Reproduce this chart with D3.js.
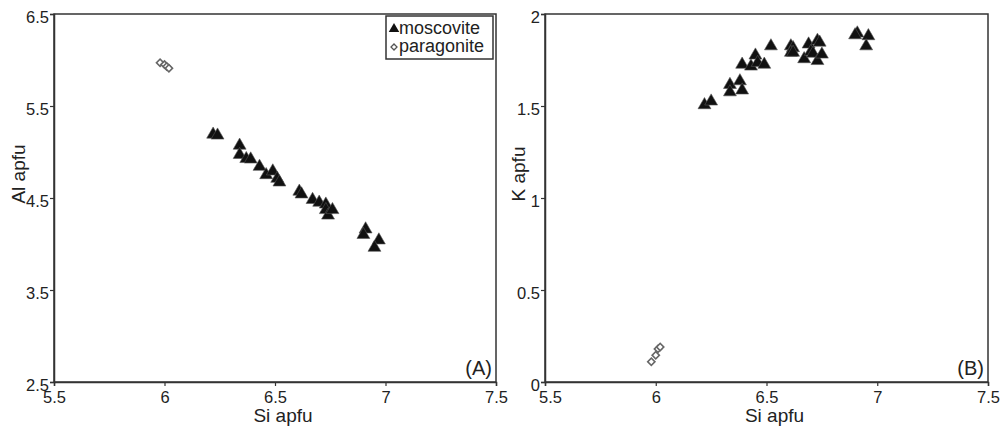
<!DOCTYPE html>
<html>
<head>
<meta charset="utf-8">
<script src="https://cdn.jsdelivr.net/npm/d3@7"></script>
<style>
  body { margin: 0; background: #fff; }
  svg text { font-family: "Liberation Sans", Arial, sans-serif; fill: #222; }
</style>
</head>
<body>
<div id="chart"></div>
<script>
// panel A: Al vs Si
var siMoscA = [6.22, 6.24, 6.34, 6.34, 6.37, 6.39, 6.43, 6.46, 6.49, 6.51, 6.52, 6.61, 6.62, 6.67, 6.70, 6.73, 6.73, 6.74, 6.76, 6.91, 6.90, 6.97, 6.95]
var alMoscA = [5.18, 5.17, 5.06, 4.96, 4.915, 4.91, 4.83, 4.74, 4.78, 4.70, 4.66, 4.56, 4.53, 4.47, 4.44, 4.42, 4.36, 4.30, 4.36, 4.15, 4.09, 4.03, 3.95]
var siParaA = [5.98, 6.00, 6.01, 6.02]
var alParaA = [5.97, 5.95, 5.93, 5.91]

// panel B: K vs Si
var siMoscB = [6.22, 6.25, 6.335, 6.335, 6.38, 6.39, 6.39, 6.43, 6.45, 6.46, 6.49, 6.52, 6.61, 6.62, 6.61, 6.62, 6.67, 6.69, 6.70, 6.71, 6.73, 6.74, 6.73, 6.75, 6.91, 6.90, 6.96, 6.95]
var kMoscB  = [1.50, 1.52, 1.61, 1.57, 1.63, 1.58, 1.72, 1.71, 1.77, 1.73, 1.72, 1.82, 1.82, 1.81, 1.785, 1.785, 1.75, 1.83, 1.79, 1.78, 1.85, 1.84, 1.74, 1.775, 1.89, 1.88, 1.875, 1.82]
var siParaB = [5.98, 6.00, 6.01, 6.02]
var kParaB  = [0.11, 0.145, 0.18, 0.19]

var xTicks = [5.5, 6, 6.5, 7, 7.5]
var yTicksA = [2.5, 3.5, 4.5, 5.5, 6.5]
var yTicksB = [0, 0.5, 1, 1.5, 2]

var legendLabels = ["moscovite", "paragonite"]

var svg = d3.select("#chart")
    .append("svg")
    .attr("width", 1008)
    .attr("height", 428)

var triangle = d3.symbol().type(d3.symbolTriangle).size(72)
var diamond = d3.symbol().type(d3.symbolSquare).size(26)

function zip(a, b) { return a.map(function (v, i) { return [v, b[i]]; }); }

function panel(opt) {
    var g = svg.append("g")
        .attr("transform", "translate(" + opt.left + "," + opt.top + ")")
    var w = opt.width, h = opt.height

    var x = d3.scaleLinear().domain([5.5, 7.5]).range([0, w])
    var y = d3.scaleLinear().domain(opt.yDomain).range([h, 0])

    // frame
    g.append("rect")
        .attr("width", w)
        .attr("height", h)
        .style("fill", "none")
        .style("stroke", "#333")
        .style("stroke-width", 1.5)

    var xAxis = g.append("g")
        .attr("transform", "translate(0," + h + ")")
        .call(d3.axisBottom(x).tickValues(xTicks).tickSize(4).tickPadding(5).tickFormat(function (d) { return String(d); }))
    var yAxis = g.append("g")
        .call(d3.axisLeft(y).tickValues(opt.yTicks).tickSize(4).tickPadding(1).tickFormat(function (d) { return String(d); }))

    ;[xAxis, yAxis].forEach(function (a) {
        a.select(".domain").style("stroke", "#333").style("stroke-width", 1.5)
        a.selectAll(".tick line").style("stroke", "#333").style("stroke-width", 1.2)
        a.selectAll("text").style("font-size", "16.5px").style("fill", "#222")
            .style("font-family", "'Liberation Sans', Arial, sans-serif")
    })
    yAxis.selectAll("text").attr("dy", "0.5em")
    // first x label nudged right where it meets the y axis
    xAxis.selectAll("text").filter(function (d) { return d === 5.5; }).attr("dx", opt.firstDx)

    // axis titles
    g.append("text")
        .attr("x", w / 2 + 8)
        .attr("y", h + 40)
        .attr("text-anchor", "middle")
        .style("font-size", "19px")
        .text("Si apfu")
    g.append("text")
        .attr("transform", "translate(" + (opt.yTitleX) + "," + (h / 2 - 24) + ") rotate(-90)")
        .attr("text-anchor", "middle")
        .style("font-size", "19px")
        .text(opt.yTitle)

    // panel tag
    g.append("text")
        .attr("x", w - 4)
        .attr("y", h - 7)
        .attr("text-anchor", "end")
        .style("font-size", "20px")
        .text(opt.tag)

    // paragonite diamonds
    g.selectAll(".para")
        .data(opt.para)
        .enter()
        .append("path")
        .attr("class", "para")
        .attr("d", diamond)
        .attr("transform", function (d) { return "translate(" + x(d[0]) + "," + y(d[1]) + ") rotate(45)"; })
        .style("fill", "#fff")
        .style("stroke", "#666")
        .style("stroke-width", 1.6)

    // moscovite triangles
    g.selectAll(".mosc")
        .data(opt.mosc)
        .enter()
        .append("path")
        .attr("class", "mosc")
        .attr("d", triangle)
        .attr("transform", function (d) { return "translate(" + x(d[0]) + "," + (y(d[1]) - 1) + ")"; })
        .style("fill", "#111")
        .style("stroke", "#555")
        .style("stroke-width", 0.6)

    return g
}

var gA = panel({
    left: 54, top: 14, width: 442, height: 368,
    yDomain: [2.5, 6.5], yTicks: yTicksA, yTitle: "Al apfu", yTitleX: -29, tag: "(A)", firstDx: 0,
    mosc: zip(siMoscA, alMoscA), para: zip(siParaA, alParaA)
})

panel({
    left: 545, top: 14, width: 443, height: 368,
    yDomain: [0, 2], yTicks: yTicksB, yTitle: "K apfu", yTitleX: -20, tag: "(B)", firstDx: 5,
    mosc: zip(siMoscB, kMoscB), para: zip(siParaB, kParaB)
})

// legend in panel A
var legend = gA.append("g").attr("transform", "translate(332,2)")
legend.append("rect")
    .attr("width", 107)
    .attr("height", 43)
    .style("fill", "#fff")
    .style("stroke", "#333")
    .style("stroke-width", 1.5)

legend.append("path")
    .attr("d", d3.symbol().type(d3.symbolTriangle).size(48))
    .attr("transform", "translate(8,13)")
    .style("fill", "#111")
legend.append("path")
    .attr("d", d3.symbol().type(d3.symbolSquare).size(18))
    .attr("transform", "translate(8,31) rotate(45)")
    .style("fill", "#fff")
    .style("stroke", "#555")
    .style("stroke-width", 1.3)

legend.selectAll(".lab")
    .data(legendLabels)
    .enter()
    .append("text")
    .attr("class", "lab")
    .attr("x", 13)
    .attr("y", function (d, i) { return 18 + i * 18; })
    .style("font-size", "18px")
    .text(function (d) { return d; })
</script>
</body>
</html>
